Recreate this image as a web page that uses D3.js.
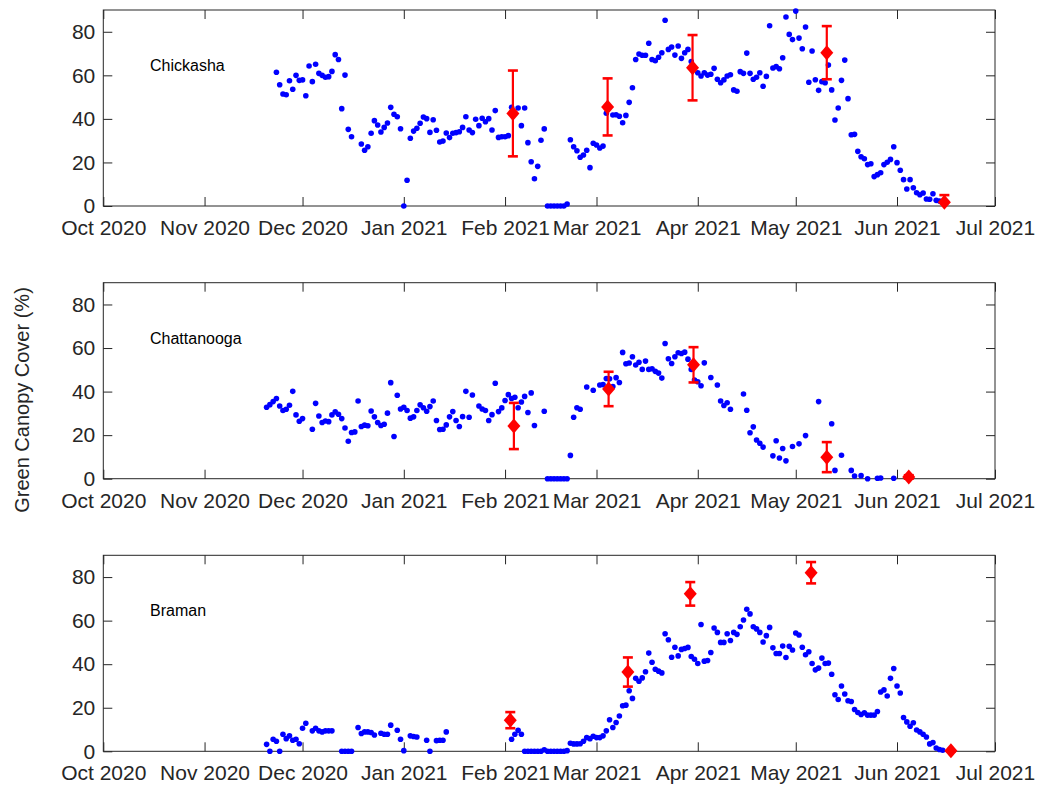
<!DOCTYPE html>
<html>
<head>
<meta charset="utf-8">
<script src="https://cdn.jsdelivr.net/npm/d3@7"></script>
<style>
  body { margin: 0; background: #fff; }
  text { font-family: "Liberation Sans", Arial, sans-serif; }
</style>
</head>
<body>
<div id="draw_here"></div>
<script>
  // days are counted from 1 Oct 2020
  var startDate = new Date(2020, 9, 1)
  var endDate = new Date(2021, 6, 1)

  var siteNames = ["Chickasha", "Chattanooga", "Braman"]
  var yTicks = [0, 20, 40, 60, 80]
  var ylim = [0, 90]

  // [day, green canopy cover %] from the blue points
  var chickashaObs = [
    [53,61.4],[54,55.7],[55,51.4],[56,51.1],[57,57.5],[58,53.6],[59,60],[60,57.7],[61,57.9],[62,50.6],
    [63,64.3],[64,57.1],[65,65.1],[66,60.9],[67,60],[68,59.1],[69,59.4],[70,61.8],[71,69.5],[72,67.3],
    [73,44.7],[74,60.1],[75,35.2],[76,31.8],[79,28.5],[80,25.6],[81,27.2],[82,33.4],[83,39.2],[84,37.2],
    [85,34],[86,36.1],[87,38.1],[88,45.3],[89,42.1],[90,41],[91,35.5],[92,0],[93,11.8],[94,31.1],
    [95,34.4],[96,35.7],[97,38],[98,40.9],[99,40.1],[100,33.8],[101,39.6],[102,34.8],[103,29.4],[104,29.8],
    [105,33.5],[106,31.4],[107,33.4],[108,33.7],[109,34.1],[110,36.1],[111,41],[112,34.9],[113,33.7],[114,39.8],
    [115,36.9],[116,40.3],[117,38.7],[118,40.1],[119,34.9],[120,43.8],[121,31.5],[122,31.8],[123,31.8],[124,32.3],
    [125,45.3],[127,45],[128,36.9],[129,45],[130,29.1],[131,20.3],[132,12.5],[133,18.2],[134,30.2],[135,35.4],
    [136,0],[137,0],[138,0],[139,0],[140,0],[141,0],[142,0.9],[143,30.4],[144,27.2],[145,25.4],
    [146,22.4],[147,23.4],[148,25.6],[149,17.6],[150,28.8],[151,28],[152,26.6],[153,27.5],[154,42.6],[156,41.8],
    [157,41.9],[158,41.2],[159,38.2],[160,41.6],[161,47.6],[162,54.3],[163,67.3],[164,69.8],[165,69.2],[166,69.2],
    [167,74.7],[168,67.3],[169,66.7],[170,68.3],[171,70.4],[172,85.3],[173,71.9],[174,73],[175,69.3],[176,73.5],
    [177,67.8],[178,70.4],[179,71.9],[180,66.3],[182,61.2],[183,59.7],[184,61.2],[185,60.1],[186,60.5],[187,63.2],
    [188,58.2],[189,56.6],[190,57.9],[191,59.7],[192,60.3],[193,53.3],[194,52.7],[195,61.7],[196,60.9],[197,70.2],
    [198,60.9],[199,58.2],[200,59.1],[201,61.2],[202,55],[203,59.5],[204,82.8],[205,63.4],[206,64],[207,63],
    [208,68.1],[209,86.8],[210,78.8],[211,76.4],[212,89.5],[213,77.1],[214,72.2],[215,82.2],[216,56.8],[217,71.2],
    [218,58],[219,53.1],[220,57.1],[221,56.6],[222,64.7],[223,53.3],[224,39.5],[225,45],[226,57.7],[227,67],
    [228,49.3],[229,32.7],[230,32.9],[231,25.1],[232,22.6],[233,21.7],[234,19],[235,19.4],[236,13.5],[237,14.4],
    [238,15.3],[239,19],[240,20.1],[241,21.4],[242,27.2],[243,19.9],[244,16.4],[245,12.1],[246,7.8],[247,12.1],
    [248,8.4],[249,6.1],[250,5.2],[251,6],[252,3.2],[253,3.1],[254,5.6],[255,2.6],[256,2.3]
  ]
  var chattanoogaObs = [
    [50,32.8],[51,34],[52,35.4],[53,36.8],[54,33.4],[55,31.3],[56,31.9],[57,33.7],[58,40.1],[59,29.3],
    [60,26.4],[61,27.6],[64,22.7],[65,34.6],[66,28.8],[67,25.8],[68,26.5],[69,26.2],[70,29.3],[71,30.7],
    [72,29.6],[73,27.6],[74,23.3],[75,17.2],[76,21.2],[77,21.5],[78,35.7],[79,24],[80,24.6],[81,24.3],
    [82,31.1],[83,28.4],[84,25.8],[85,24.4],[86,25],[87,30.1],[88,44.1],[89,19.4],[90,38.3],[91,32],
    [92,32.8],[93,31.3],[94,27.8],[95,28.4],[96,31.3],[97,33.9],[98,32.6],[99,31],[100,33.1],[101,35.7],
    [102,26.7],[103,22.6],[104,22.7],[105,24.7],[106,28.4],[107,30.8],[108,26.7],[109,24],[110,28.5],[111,40.1],
    [112,28.2],[113,38.4],[115,33.4],[116,32],[117,31.3],[118,26.7],[119,29.4],[120,43.8],[121,30.8],[122,32.5],
    [123,35.9],[124,38.6],[125,36.8],[126,37.4],[127,32.6],[128,35.2],[129,37.8],[130,30.4],[131,39.4],[132,24.4],
    [135,31],[136,0],[137,0],[138,0],[139,0],[140,0],[141,0],[142,0],[143,10.7],[144,28.2],
    [145,32.6],[146,31.9],[148,42.1],[150,40.6],[152,43],[153,43.2],[154,46],[155,45.9],[156,42.3],[157,46.4],
    [158,44.2],[159,58],[160,52.8],[161,53.1],[162,56],[163,52.2],[164,53.5],[165,50.2],[166,54],[167,50.2],
    [168,50.5],[169,49.3],[170,48.5],[171,46.2],[172,62.1],[173,55.1],[174,52.9],[175,56],[176,57.8],[177,57.5],
    [178,58.1],[179,54.9],[180,50.2],[181,45.3],[182,44.5],[183,42.7],[184,53.2],[186,46.5],[188,43],[189,35.7],
    [190,33.6],[191,34.9],[192,31.9],[196,38.9],[197,31.4],[198,21.1],[199,23.8],[200,17.8],[201,16.3],[202,14.5],
    [205,10.5],[206,17.4],[207,9.5],[208,13.9],[209,8.2],[211,14.8],[213,16],[215,19.8],[219,35.4],[223,25.2],
    [224,3.8],[226,10.8],[229,3.8],[230,1.2],[232,1.4],[234,0],[237,0.2],[238,0.3],[242,0.2]
  ]
  var bramanObs = [
    [50,3.2],[51,0],[52,5.5],[53,4.6],[54,0],[55,7.8],[56,5.8],[57,7.1],[58,5.1],[59,5.5],
    [60,3.5],[61,10.6],[62,12.9],[64,9.4],[65,10.6],[66,9.4],[67,8.9],[68,9.4],[69,9.4],[70,9.4],
    [73,0],[74,0],[75,0],[76,0],[78,10.9],[79,8.2],[80,8.9],[81,8.9],[82,8.6],[83,7.5],
    [85,8.3],[86,7.8],[87,7.8],[88,12],[90,9.7],[91,5.5],[92,0.3],[94,7.1],[95,6.8],[96,6.6],
    [99,5.1],[100,0],[102,4.9],[103,5.1],[104,5.1],[105,8.9],[125,5.5],[126,7.8],[127,9.7],[128,7.8],
    [129,0],[130,0],[131,0],[132,0],[133,0],[134,0],[135,0.7],[136,0],[137,0],[138,0],
    [139,0],[140,0],[141,0],[142,0.3],[143,3.7],[144,3.4],[145,3.4],[146,3.5],[147,4.6],[148,6.3],
    [149,5.8],[150,6.9],[151,6.3],[152,6.3],[153,7.1],[154,9.4],[155,14.5],[156,10.9],[157,13.2],[158,16.2],
    [159,20.9],[160,21.2],[161,27.8],[162,24.3],[163,33.5],[164,32.2],[165,33.7],[166,36.5],[167,45.1],[168,40.9],
    [169,37.7],[170,36.8],[171,36],[172,54],[173,51.2],[174,43.2],[175,47.8],[176,43.8],[177,46.8],[178,47.2],
    [179,47.7],[180,43.5],[181,42.3],[182,40.3],[183,58.2],[184,41.4],[185,41.7],[186,45.4],[187,56.6],[188,54.6],
    [189,50],[190,50],[191,54],[192,50.9],[193,54.6],[194,53.7],[195,57.2],[196,60.3],[197,65.2],[198,63.1],
    [199,57.2],[200,56.2],[201,54.6],[202,50.2],[203,53.1],[204,56.9],[205,47.5],[206,44.9],[207,44.9],[208,48.3],
    [209,43.1],[210,48.2],[211,46.5],[212,54.3],[213,53.4],[214,47.8],[215,44.3],[216,45.7],[217,40.3],[218,37.4],
    [219,38.2],[220,42.8],[221,40.3],[222,40.5],[223,35.4],[224,26],[225,23.8],[226,30],[227,26.3],[228,23.2],
    [229,22.9],[230,19.2],[231,17.8],[232,16.9],[233,17.7],[234,16.6],[235,16.6],[236,16.6],[237,18.3],[238,27.2],
    [239,28.2],[240,25.4],[241,33.5],[242,38],[243,30],[244,26.8],[245,15.5],[246,13.5],[247,11.5],[248,13.1],
    [249,9.8],[250,8.9],[251,7.8],[252,6.6],[253,3.4],[254,4],[255,1.5],[256,0.8],[257,0.5]
  ]

  // [day, mean, error] from the red diamonds
  var chickashaMean = [[125.4,42.5,19.7],[154.4,45.5,13.1],[180.4,63.5,15],[221.5,70.4,12.2],[257.5,1.7,3.3]]
  var chattanoogaMean = [[125.7,24.2,10.6],[154.7,41.2,7.9],[180.7,52.3,8.1],[221.5,9.9,6.9],[246.6,0.8,0.8]]
  var bramanMean = [[124.6,14.3,3.7],[160.6,36.4,6.7],[179.7,72.3,5.4],[216.7,82,4.9],[259.5,0.2,0.2]]

  var allObs = [chickashaObs, chattanoogaObs, bramanObs]
  var allMean = [chickashaMean, chattanoogaMean, bramanMean]

  var canvas = ({width: 1041, height: 787})
  var panelTop = [10, 282.7, 555.3]
  var panelH = 196
  var plotLeft = 103.3
  var plotRight = 995
  var axisCol = "#262626"
  var blue = "#0000ff"
  var red = "#ff0000"
  var fontFam = "Liberation Sans, Arial, sans-serif"

  var svg = d3.select("#draw_here").append("svg")
      .attr("width", canvas.width)
      .attr("height", canvas.height)

  var x = d3.scaleTime()
      .domain([startDate, endDate])
      .range([plotLeft, plotRight])

  var day = d => d3.timeDay.offset(startDate, Math.floor(d)).getTime() + (d % 1) * 864e5

  var diamond = "M0,-7.5L6.5,0L0,7.5L-6.5,0Z"
  var months = d3.timeMonth.every(1)

  function drawPanel(p) {
      var py = panelTop[p]
      var y = d3.scaleLinear()
          .domain(ylim)
          .range([py + panelH, py])

      var g = svg.append("g")

      // box
      g.append("rect")
          .attr("x", plotLeft).attr("y", py)
          .attr("width", plotRight - plotLeft).attr("height", panelH)
          .attr("fill", "none")
          .attr("stroke", axisCol)
          .attr("stroke-width", 1)

      g.append("g")
          .attr("transform", `translate(0,${py + panelH})`)
          .call(d3.axisBottom(x).ticks(months).tickFormat(d3.timeFormat("%b %Y"))
              .tickSizeInner(-9).tickSizeOuter(0).tickPadding(14))
          .call(a => a.select(".domain").remove())
          .call(a => a.selectAll("line").attr("stroke", axisCol))
          .call(a => a.selectAll("text").attr("fill", axisCol)
              .attr("font-size", 21).attr("font-family", fontFam))

      g.append("g")
          .attr("transform", `translate(0,${py})`)
          .call(d3.axisTop(x).ticks(months).tickFormat("").tickSizeInner(-9).tickSizeOuter(0))
          .call(a => a.select(".domain").remove())
          .call(a => a.selectAll("line").attr("stroke", axisCol))

      g.append("g")
          .attr("transform", `translate(${plotLeft},0)`)
          .call(d3.axisLeft(y).tickValues(yTicks).tickSizeInner(-9).tickSizeOuter(0).tickPadding(8))
          .call(a => a.select(".domain").remove())
          .call(a => a.selectAll("line").attr("stroke", axisCol))
          .call(a => a.selectAll("text").attr("fill", axisCol)
              .attr("font-size", 21).attr("font-family", fontFam))

      g.append("g")
          .attr("transform", `translate(${plotRight},0)`)
          .call(d3.axisRight(y).tickValues(yTicks).tickFormat("").tickSizeInner(-9).tickSizeOuter(0))
          .call(a => a.select(".domain").remove())
          .call(a => a.selectAll("line").attr("stroke", axisCol))

      // site name
      g.append("text")
          .attr("x", 150)
          .attr("y", py + 61)
          .attr("font-size", 16)
          .attr("fill", "#000")
          .text(siteNames[p])

      // blue points
      g.append("g").selectAll("circle")
          .data(allObs[p])
          .join("circle")
          .attr("cx", d => x(day(d[0])))
          .attr("cy", d => y(d[1]))
          .attr("r", 2.8)
          .attr("fill", blue)

      // red mean +/- error
      var m = g.append("g").selectAll("g")
          .data(allMean[p])
          .join("g")
          .attr("stroke", red)
          .attr("stroke-width", 2.2)

      m.append("line")
          .attr("x1", d => x(day(d[0]))).attr("x2", d => x(day(d[0])))
          .attr("y1", d => y(Math.max(0, d[1] - d[2]))).attr("y2", d => y(d[1] + d[2]))
      m.append("line")
          .attr("x1", d => x(day(d[0])) - 5).attr("x2", d => x(day(d[0])) + 5)
          .attr("y1", d => y(d[1] + d[2])).attr("y2", d => y(d[1] + d[2]))
          .attr("stroke-width", 2.6)
      m.filter(d => d[1] - d[2] >= 0).append("line")
          .attr("x1", d => x(day(d[0])) - 5).attr("x2", d => x(day(d[0])) + 5)
          .attr("y1", d => y(d[1] - d[2])).attr("y2", d => y(d[1] - d[2]))
          .attr("stroke-width", 2.6)
      m.append("path")
          .attr("transform", d => `translate(${x(day(d[0]))},${y(d[1])})`)
          .attr("d", diamond)
          .attr("fill", red)
          .attr("stroke", "none")
  }

  for (var p = 0; p < 3; p++) drawPanel(p)

  svg.append("text")
      .attr("transform", "translate(29,400) rotate(-90)")
      .attr("text-anchor", "middle")
      .attr("font-size", 20)
      .attr("fill", axisCol)
      .attr("font-family", fontFam)
      .text("Green Canopy Cover (%)")
</script>
</body>
</html>
